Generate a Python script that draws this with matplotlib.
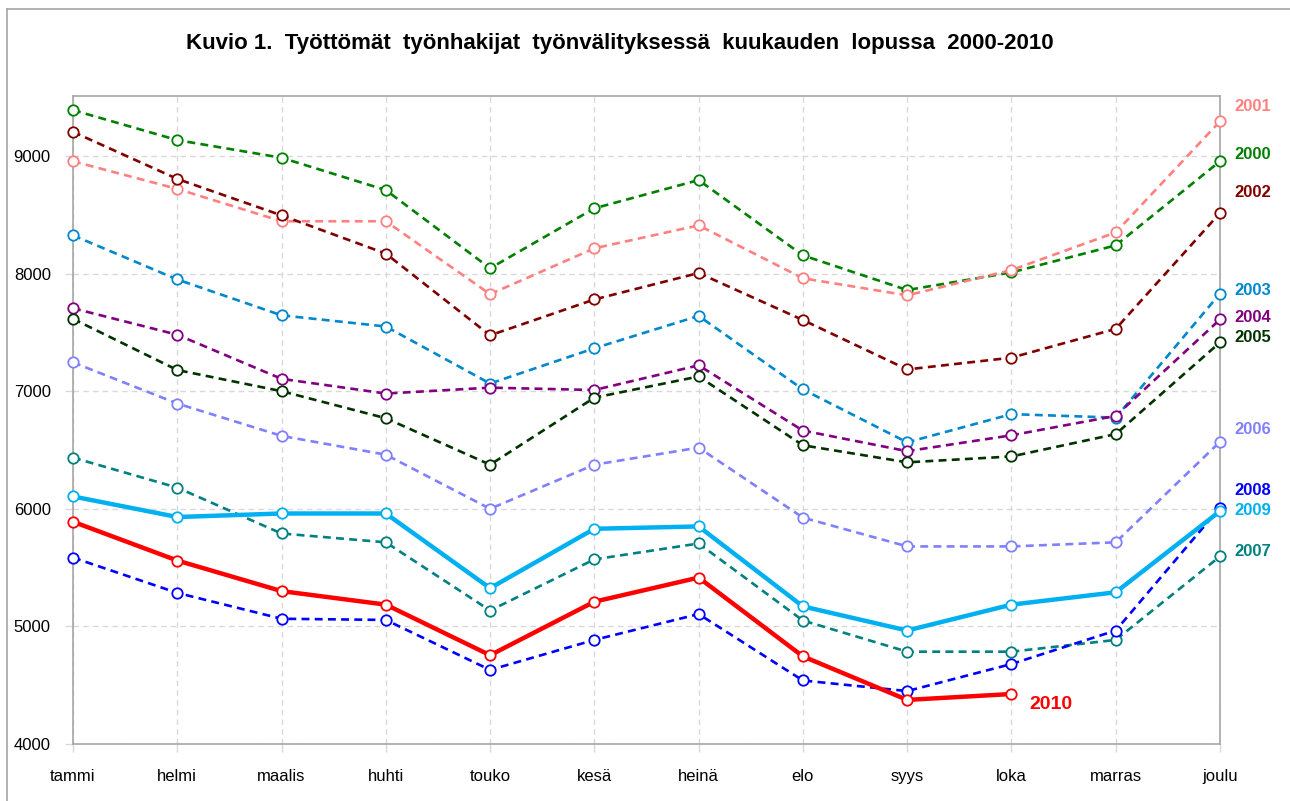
import numpy as np
import matplotlib
matplotlib.use("Agg")
import matplotlib.pyplot as plt
from matplotlib.lines import Line2D

#       <--- DATA --->
#------------------------------------------------------------------------------
months = ["tammi", "helmi", "maalis", "huhti", "touko", "kesä",
          "heinä", "elo", "syys", "loka", "marras", "joulu"]

years = ["2000", "2001", "2002", "2003", "2004", "2005",
         "2006", "2007", "2008", "2009", "2010"]

v2000 = [9390, 9135, 8985, 8710, 8045, 8555, 8795, 8155, 7860, 8010, 8240, 8955]
v2001 = [8955, 8720, 8445, 8445, 7825, 8215, 8410, 7960, 7815, 8030, 8350, 9295]
v2002 = [9205, 8805, 8495, 8170, 7475, 7780, 8005, 7605, 7185, 7285, 7530, 8515]
v2003 = [8325, 7950, 7645, 7550, 7065, 7365, 7640, 7015, 6565, 6805, 6775, 7830]
v2004 = [7705, 7480, 7105, 6980, 7030, 7010, 7220, 6665, 6490, 6625, 6790, 7610]
v2005 = [7615, 7180, 7000, 6770, 6375, 6945, 7125, 6540, 6395, 6445, 6635, 7415]
v2006 = [7245, 6895, 6620, 6460, 6000, 6375, 6520, 5925, 5680, 5680, 5715, 6570]
v2007 = [6435, 6180, 5790, 5715, 5135, 5570, 5705, 5050, 4785, 4785, 4885, 5595]
v2008 = [5585, 5285, 5065, 5055, 4630, 4885, 5105, 4540, 4450, 4680, 4965, 6010]
v2009 = [6105, 5930, 5960, 5960, 5325, 5830, 5850, 5170, 4965, 5185, 5290, 5980]
v2010 = [5890, 5560, 5300, 5185, 4755, 5210, 5415, 4745, 4375, 4425, np.nan, np.nan]

series = [v2000, v2001, v2002, v2003, v2004, v2005,
          v2006, v2007, v2008, v2009, v2010]

#       <--- STYLE --->
#------------------------------------------------------------------------------
colors = ["#008000", "#FF8080", "#800000", "#0088CC", "#800080", "#003300",
          "#8080FF", "#008080", "#0000FF", "#00B0F0", "#FF0000"]
solid = ["2009", "2010"]

# label offsets (pixels) from the last point of each line
label_off = {"2000": (14, 7), "2001": (14, 15), "2002": (14, 21),
             "2003": (14, 3), "2004": (14, 2), "2005": (14, 5),
             "2006": (14, 12), "2007": (14, 5), "2008": (14, 17),
             "2009": (14, 1), "2010": (18, -10)}

plt.rcParams["font.family"] = ["Liberation Sans", "DejaVu Sans"]

#       <--- PLOT --->
#------------------------------------------------------------------------------
fig = plt.figure(figsize=(12.9, 8.01), dpi=100)
ax = fig.add_axes([73 / 1290, 57 / 801, 1147 / 1290, 648 / 801])

x = np.arange(len(months))
for y, c, s in zip(years, colors, series):
    if y in solid:
        ax.plot(x, s, "-", color=c, lw=3.2, marker="o", ms=7.5,
                mfc="white", mec=c, mew=1.3, clip_on=False, zorder=3)
    else:
        ax.plot(x, s, color=c, lw=1.9, dashes=(3, 2), marker="o", ms=7.5,
                mfc="white", mec=c, mew=1.3, clip_on=False, zorder=3)

    # label at the end of the line
    arr = np.array(s, dtype=float)
    last = np.where(~np.isnan(arr))[0][-1]
    dx, dy = label_off[y]
    if y == "2010":
        ax.annotate(y, (x[last], arr[last]), xytext=(dx, dy),
                    textcoords="offset pixels", color=c, fontsize=14,
                    fontweight="bold", va="center", ha="left")
    else:
        ax.annotate(y, (x[last], arr[last]), xytext=(dx, dy),
                    textcoords="offset pixels", color=c, fontsize=12,
                    fontweight="bold", va="center", ha="left",
                    annotation_clip=False)

ax.set_xlim(0, 11)
ax.set_ylim(4000, 9510)
ax.set_xticks(x)
ax.set_xticklabels(months)
ax.set_yticks([4000, 5000, 6000, 7000, 8000, 9000])
ax.tick_params(labelsize=12, length=6, color="#D9D9D9", width=1)
ax.tick_params(axis="x", pad=12)
ax.tick_params(axis="y", pad=10)
ax.grid(True, color="#D9D9D9", linestyle=(0, (4, 3)), lw=1)
ax.set_axisbelow(True)
for sp in ax.spines.values():
    sp.set_color("#A6A6A6")
    sp.set_linewidth(1.2)

fig.text(620 / 1290, 1 - 44 / 801,
         "Kuvio 1.  Työttömät  työnhakijat  työnvälityksessä  kuukauden  lopussa  2000-2010",
         ha="center", va="center", fontsize=16, fontweight="bold")

# outer chart frame
fig.add_artist(Line2D([7 / 1290, 7 / 1290], [0, 1 - 9 / 801],
                      color="#A6A6A6", lw=1.2))
fig.add_artist(Line2D([7 / 1290, 1], [1 - 9 / 801, 1 - 9 / 801],
                      color="#A6A6A6", lw=1.2))

fig.savefig("out.png", dpi=100)
